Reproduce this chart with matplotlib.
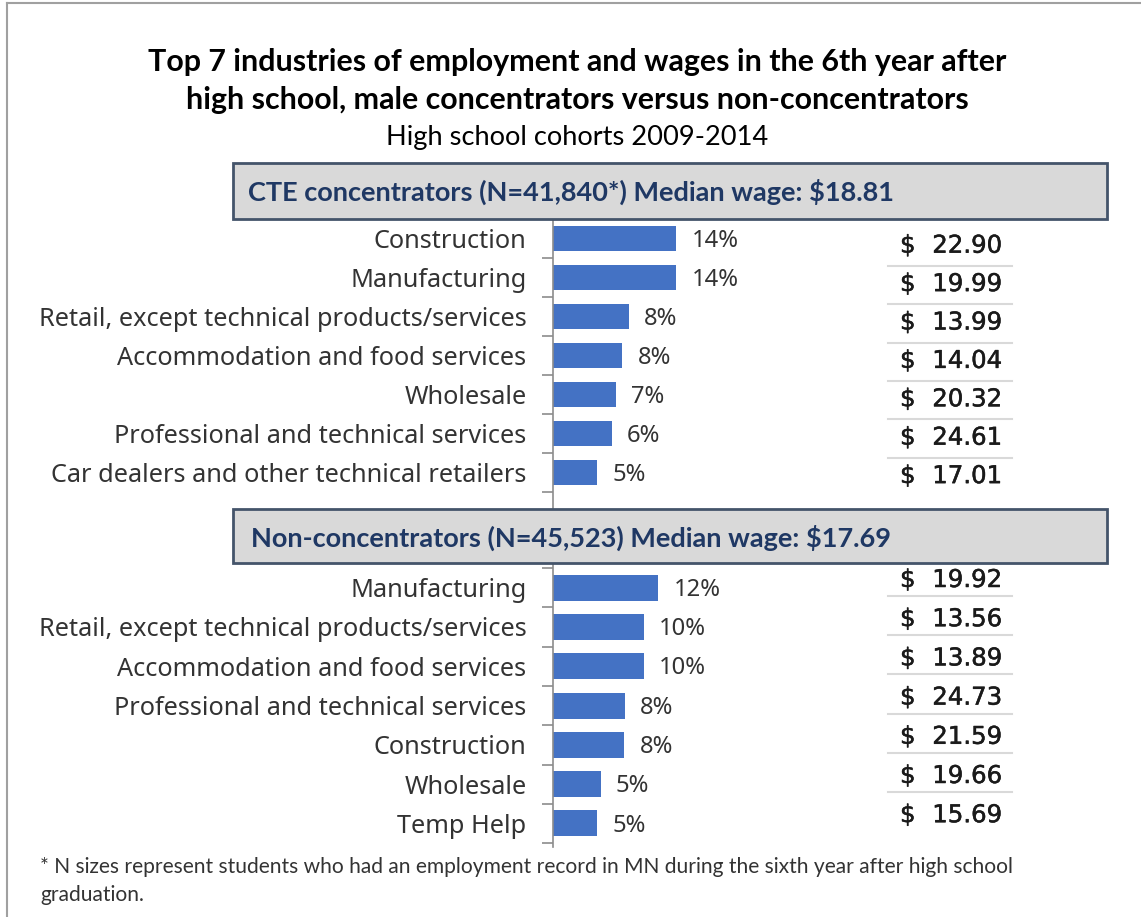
import matplotlib
matplotlib.use("Agg")
import matplotlib.pyplot as plt
import matplotlib.patheffects as pe
from matplotlib.patches import Rectangle
from matplotlib.lines import Line2D

# ---------------- data ----------------
title_lines = ["Top 7 industries of employment and wages in the 6th year after",
               "high school, male concentrators versus non-concentrators"]
subtitle = "High school cohorts 2009-2014"
cte_header = "CTE concentrators (N=41,840*) Median wage: $18.81"
non_header = "Non-concentrators (N=45,523) Median wage: $17.69"
footnote = ["* N sizes represent students who had an employment record in MN during the sixth year after high school",
            "graduation."]

cte_industries = ["Construction", "Manufacturing", "Retail, except technical products/services",
                  "Accommodation and food services", "Wholesale",
                  "Professional and technical services", "Car dealers and other technical retailers"]
cte_share = [13.7, 13.7, 8.4, 7.7, 7.0, 6.5, 4.9]
cte_wage = [22.90, 19.99, 13.99, 14.04, 20.32, 24.61, 17.01]

non_industries = ["Manufacturing", "Retail, except technical products/services",
                  "Accommodation and food services", "Professional and technical services",
                  "Construction", "Wholesale", "Temp Help"]
non_share = [11.7, 10.1, 10.1, 8.0, 7.9, 5.3, 4.9]
non_wage = [19.92, 13.56, 13.89, 24.73, 21.59, 19.66, 15.69]

# ---------------- layout helpers ----------------
W, H = 1141, 917
fig = plt.figure(figsize=(W / 100, H / 100), dpi=100)
fig.patch.set_facecolor("white")
renderer = fig.canvas.get_renderer()


def fx(x):
    return x / W


def fy(y):
    return 1 - y / H


def fit_size(s, target, family, weight="normal", base=20.0):
    t = fig.text(0, 0, s, fontsize=base, family=family, weight=weight)
    w = t.get_window_extent(renderer).width
    t.remove()
    return base * target / w


HEAD_FONT = "Lato"
LABEL_FONT = "Noto Sans"
NUM_FONT = "DejaVu Sans"
BAR_COLOR = "#4472C4"
TEXT_COLOR = "#333333"

# outer frame (top + left)
fig.add_artist(Line2D([fx(7), fx(7)], [fy(3), fy(917)], color="#a0a0a0", lw=1.5))
fig.add_artist(Line2D([fx(7), fx(1141)], [fy(3), fy(3)], color="#a0a0a0", lw=1.5))

# titles
ts = fit_size(title_lines[0], 858, HEAD_FONT, "bold")
fig.text(fx(577), fy(62), title_lines[0], ha="center", va="center", fontsize=ts,
         family=HEAD_FONT, weight="bold", color="black")
fig.text(fx(577), fy(100), title_lines[1], ha="center", va="center", fontsize=ts,
         family=HEAD_FONT, weight="bold", color="black")
ss = fit_size(subtitle, 383, HEAD_FONT)
fig.text(fx(577), fy(138), subtitle, ha="center", va="center", fontsize=ss,
         family=HEAD_FONT, color="black")

# footnote
fs = fit_size(footnote[0], 977, HEAD_FONT)
fig.text(fx(40), fy(867), footnote[0], ha="left", va="center", fontsize=fs,
         family=HEAD_FONT, color=TEXT_COLOR)
fig.text(fx(40), fy(895), footnote[1], ha="left", va="center", fontsize=fs,
         family=HEAD_FONT, color=TEXT_COLOR)

# font sizes for panels
label_size = fit_size("Retail, except technical products/services", 487, LABEL_FONT)
pct_size = fit_size("14%", 47, LABEL_FONT)
num_size = fit_size("22.90", 70, NUM_FONT)
head_size = fit_size(cte_header, 649, HEAD_FONT, "bold")

PX_PER_PCT = 9.0
AX_LEFT, AX_W = 553, 300
num_effect = [pe.withStroke(linewidth=0.35, foreground="#1a1a1a")]


def panel(industries, share, wage, ax_top, ax_bottom, first_tick, tick_step,
          box_top, box_bottom, header, header_y, sep_first, sep_step, text_shift):
    ax = fig.add_axes([fx(AX_LEFT), fy(ax_bottom), AX_W / W, (ax_bottom - ax_top) / H])
    n = len(industries)
    y = list(range(n))
    ax.barh(y, share, height=0.66, color=BAR_COLOR, zorder=2)
    ax.set_xlim(0, AX_W / PX_PER_PCT)
    top_val = -0.5 - (first_tick - ax_top) / tick_step
    bot_val = top_val + (ax_bottom - ax_top) / tick_step
    ax.set_ylim(bot_val, top_val)
    ax.set_yticks(y)
    ax.set_yticklabels(industries, fontsize=label_size, family=LABEL_FONT, color=TEXT_COLOR)
    ax.tick_params(axis="y", which="major", length=0, pad=19)
    ax.set_yticks([i - 0.5 for i in range(n + 1)], minor=True)
    ax.tick_params(axis="y", which="minor", length=8, width=1.2, color="#8c8c8c")
    ax.set_xticks([])
    for s in ["top", "right", "bottom"]:
        ax.spines[s].set_visible(False)
    ax.spines["left"].set_color("#8c8c8c")
    ax.spines["left"].set_linewidth(1.2)
    ax.patch.set_alpha(0)
    for yi, v in zip(y, share):
        ax.annotate(f"{v:.0f}%", (v, yi), xytext=(11, -1.5), textcoords="offset points",
                    ha="left", va="center", fontsize=pct_size, family=LABEL_FONT,
                    color=TEXT_COLOR)

    # header box
    fig.add_artist(Rectangle((fx(233), fy(box_bottom)), (1107 - 233) / W,
                             (box_bottom - box_top) / H, transform=fig.transFigure,
                             facecolor="#d9d9d9", edgecolor="#44546a", lw=2, zorder=5))
    fig.text(fx(571), fy(header_y), header, ha="center", va="center", fontsize=head_size,
             family=HEAD_FONT, weight="bold", color="#1f3864", zorder=6)

    # wage table
    for i, wv in enumerate(wage):
        sep = sep_first + i * sep_step
        ty = sep - text_shift
        fig.text(fx(900), fy(ty), "$", ha="left", va="center", fontsize=num_size,
                 family=NUM_FONT, color="#1a1a1a", path_effects=num_effect)
        fig.text(fx(1002), fy(ty), f"{wv:.2f}", ha="right", va="center", fontsize=num_size,
                 family=NUM_FONT, color="#1a1a1a", path_effects=num_effect)
        if i < len(wage) - 1:
            fig.add_artist(Line2D([fx(888), fx(1012)], [fy(sep), fy(sep)],
                                  color="#d9d9d9", lw=1.5))
    return ax


panel(cte_industries, cte_share, cte_wage, ax_top=219, ax_bottom=509, first_tick=219,
      tick_step=39.0, box_top=163, box_bottom=219, header=cte_header, header_y=192,
      sep_first=265.7, sep_step=38.4, text_shift=20)
panel(non_industries, non_share, non_wage, ax_top=563, ax_bottom=847, first_tick=568,
      tick_step=39.3, box_top=509, box_bottom=563, header=non_header, header_y=538,
      sep_first=596, sep_step=39.2, text_shift=16)

fig.savefig("out.png", dpi=100, facecolor="white")
